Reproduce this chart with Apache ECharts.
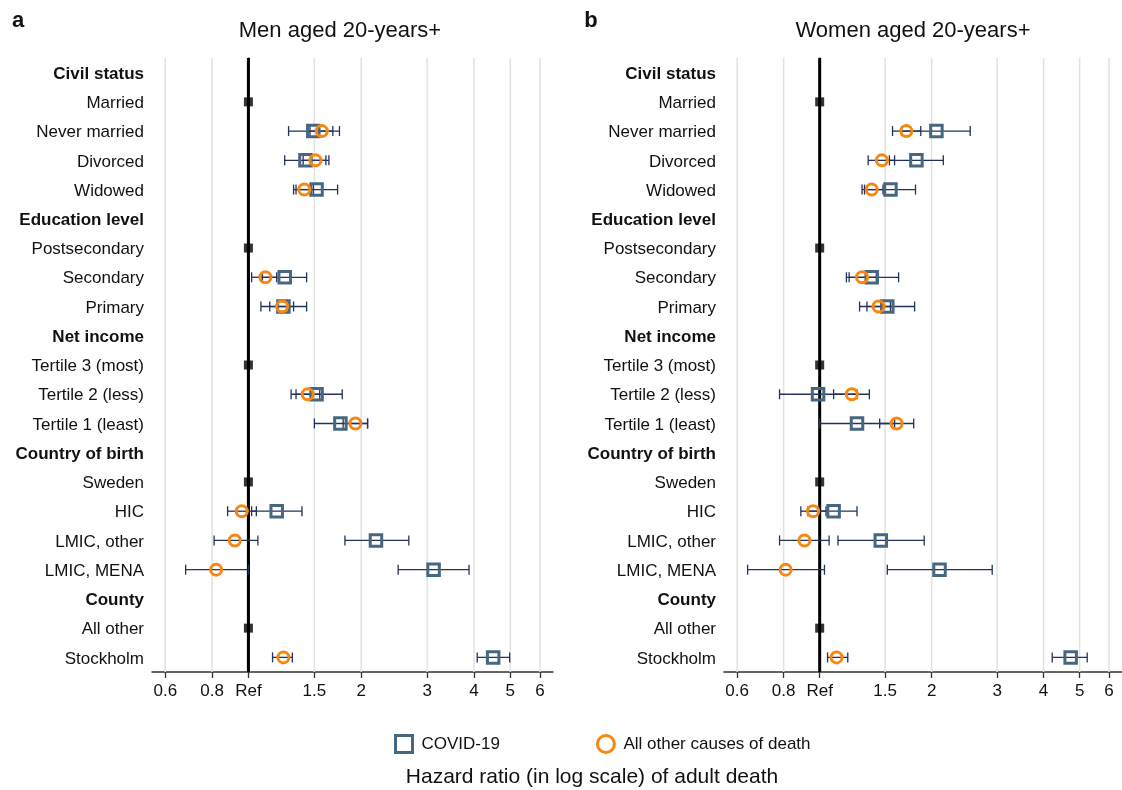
<!DOCTYPE html>
<html><head><meta charset="utf-8">
<script src="https://cdn.jsdelivr.net/npm/echarts@6/dist/echarts.min.js"></script>
<style>html,body{margin:0;padding:0;background:#fff}#c{width:1122px;height:790px}</style>
</head><body><div id="c"></div>
<script>
// ---------- data ----------
const categories = ['Civil status','Married','Never married','Divorced','Widowed',
  'Education level','Postsecondary','Secondary','Primary',
  'Net income','Tertile 3 (most)','Tertile 2 (less)','Tertile 1 (least)',
  'Country of birth','Sweden','HIC','LMIC, other','LMIC, MENA',
  'County','All other','Stockholm'];
const isHeader = [1,0,0,0,0, 1,0,0,0, 1,0,0,0, 1,0,0,0,0, 1,0,0];
const refHR    = [null,1,null,null,null, null,1,null,null, null,1,null,null, null,1,null,null,null, null,1,null];
const tickValues = [0.6,0.8,1,1.5,2,3,4,5,6];
const tickLabels = ['0.6','0.8','Ref','1.5','2','3','4','5','6'];

// Men aged 20+
const menCovidHR = [null,null,1.49,1.42,1.52, null,null,1.25,1.24, null,null,1.52,1.76, null,null,1.19,2.19,3.12, null,null,4.50];
const menCovidLo = [null,null,1.28,1.25,1.32, null,null,1.09,1.08, null,null,1.30,1.50, null,null,1.02,1.81,2.51, null,null,4.08];
const menCovidHi = [null,null,1.75,1.64,1.73, null,null,1.43,1.43, null,null,1.78,2.08, null,null,1.39,2.68,3.88, null,null,4.98];
const menOtherHR = [null,null,1.57,1.51,1.41, null,null,1.11,1.23, null,null,1.44,1.93, null,null,0.96,0.92,0.82, null,null,1.24];
const menOtherLo = [null,null,1.46,1.40,1.34, null,null,1.02,1.14, null,null,1.34,1.79, null,null,0.88,0.81,0.68, null,null,1.16];
const menOtherHi = [null,null,1.68,1.61,1.49, null,null,1.19,1.32, null,null,1.55,2.08, null,null,1.05,1.06,1.00, null,null,1.31];

// Women aged 20+
const womCovidHR = [null,null,2.06,1.82,1.55, null,null,1.38,1.52, null,null,0.99,1.26, null,null,1.09,1.46,2.10, null,null,4.73];
const womCovidLo = [null,null,1.66,1.54,1.32, null,null,1.18,1.28, null,null,0.78,1.00, null,null,0.93,1.12,1.52, null,null,4.22];
const womCovidHi = [null,null,2.54,2.15,1.81, null,null,1.63,1.80, null,null,1.26,1.59, null,null,1.26,1.91,2.91, null,null,5.24];
const womOtherHR = [null,null,1.71,1.47,1.38, null,null,1.30,1.44, null,null,1.22,1.61, null,null,0.96,0.91,0.81, null,null,1.11];
const womOtherLo = [null,null,1.57,1.35,1.30, null,null,1.20,1.34, null,null,1.09,1.45, null,null,0.89,0.78,0.64, null,null,1.05];
const womOtherHi = [null,null,1.87,1.59,1.48, null,null,1.42,1.55, null,null,1.36,1.79, null,null,1.04,1.06,1.03, null,null,1.19];

// ---------- styling ----------
const FONT = 'Liberation Sans, Arial, Helvetica, sans-serif';
const COL_COVID = '#46677f';
const COL_OTHER = '#f8860f';
const COL_ERR = '#22325d';
const LG = Math.log10;

function pts(hr) {
  const out = [];
  hr.forEach((v, i) => { if (v != null) out.push([LG(v), i]); });
  return out;
}
function errs(hr, lo, hi) {
  const out = [];
  hr.forEach((v, i) => { if (v != null) out.push([LG(lo[i]), LG(hi[i]), i]); });
  return out;
}
function errSeries(gi, data) {
  return {
    type: 'custom', xAxisIndex: gi, yAxisIndex: gi, z: 10, silent: true,
    data, encode: { x: [0, 1], y: 2 },
    renderItem(params, api) {
      const a = api.coord([api.value(0), api.value(2)]);
      const b = api.coord([api.value(1), api.value(2)]);
      const h = 5;
      const st = { stroke: COL_ERR, lineWidth: 1.3, fill: null };
      return { type: 'group', children: [
        { type: 'line', shape: { x1: a[0], y1: a[1], x2: b[0], y2: b[1] }, style: st },
        { type: 'line', shape: { x1: a[0], y1: a[1] - h, x2: a[0], y2: a[1] + h }, style: st },
        { type: 'line', shape: { x1: b[0], y1: b[1] - h, x2: b[0], y2: b[1] + h }, style: st }
      ]};
    }
  };
}
function vlineSeries(gi, values, color, width, z) {
  return {
    type: 'custom', xAxisIndex: gi, yAxisIndex: gi, z, silent: true,
    data: values.map(v => [LG(v), 0]), encode: { x: 0, y: 1 },
    renderItem(params, api) {
      const cs = params.coordSys;
      const x = api.coord([api.value(0), 0])[0];
      return { type: 'line', shape: { x1: x, y1: cs.y, x2: x, y2: cs.y + cs.height },
        style: { stroke: color, lineWidth: width } };
    }
  };
}
function panel(gi, cHR, cLo, cHi, oHR, oLo, oHi) {
  return [
    vlineSeries(gi, tickValues.filter(v => v !== 1), '#e2e2e2', 1.5, 1),
    vlineSeries(gi, [1], '#000', 3, 2),
    errSeries(gi, errs(cHR, cLo, cHi)),
    errSeries(gi, errs(oHR, oLo, oHi)),
    { name: 'COVID-19', type: 'scatter', xAxisIndex: gi, yAxisIndex: gi, z: 11,
      symbol: 'rect', symbolSize: 11.5, data: pts(cHR),
      itemStyle: { color: 'rgba(255,255,255,0)', borderColor: COL_COVID, borderWidth: 3, opacity: 1 } },
    { name: 'All other causes of death', type: 'scatter', xAxisIndex: gi, yAxisIndex: gi, z: 12,
      symbol: 'circle', symbolSize: 11, data: pts(oHR),
      itemStyle: { color: 'rgba(255,255,255,0)', borderColor: COL_OTHER, borderWidth: 3, opacity: 1 } },
    { type: 'scatter', xAxisIndex: gi, yAxisIndex: gi, z: 13, silent: true,
      symbol: 'rect', symbolSize: 9, data: pts(refHR), itemStyle: { color: '#000' } }
  ];
}
function xAxis(gi) {
  const cv = tickValues.map(LG);
  return {
    type: 'value', gridIndex: gi, min: LG(0.553), max: LG(6.5),
    axisLine: { show: true, onZero: false, lineStyle: { color: '#333', width: 1.5 } },
    axisTick: { show: true, customValues: cv, length: 6, lineStyle: { color: '#333', width: 1.3 } },
    axisLabel: { show: true, customValues: cv, margin: 11, fontSize: 17, color: '#111', fontFamily: FONT,
      formatter: v => { const i = cv.findIndex(t => Math.abs(t - v) < 1e-6); return i >= 0 ? tickLabels[i] : ''; } },
    splitLine: { show: false }
  };
}
function yAxis(gi) {
  return {
    type: 'category', gridIndex: gi, data: categories, inverse: true, boundaryGap: true,
    axisLine: { show: true, lineStyle: { color: '#3a3a3a', width: 1.5 } },
    axisTick: { show: false },
    splitLine: { show: false },
    axisLabel: { interval: 0, margin: 8, fontSize: 17, color: '#111', fontFamily: FONT,
      padding: [3, 0, 0, 0],
      formatter: (v, i) => isHeader[i] ? '{b|' + v + '}' : v,
      rich: { b: { fontWeight: 'bold', fontSize: 17, color: '#111', fontFamily: FONT } } }
  };
}

const chart = echarts.init(document.getElementById('c'), null, { renderer: 'canvas' });
const txt = (x, y, text, size, weight) => ({ type: 'text', x, y, silent: true,
  style: { text, fontSize: size, fontWeight: weight || 'normal', fontFamily: FONT, fill: '#111',
    align: 'center', verticalAlign: 'middle' } });

chart.setOption({
  animation: false,
  backgroundColor: '#fff',
  textStyle: { fontFamily: FONT },
  grid: [
    { left: 152, top: 58, width: 401, height: 614, containLabel: false },
    { left: 724, top: 58, width: 399, height: 614, containLabel: false }
  ],
  xAxis: [xAxis(0), xAxis(1)],
  yAxis: [yAxis(0), yAxis(1)],
  legend: {
    left: 389, top: 729, itemWidth: 17, itemHeight: 17, itemGap: 96,
    textStyle: { fontSize: 17, color: '#111', fontFamily: FONT, padding: [0, 0, 0, 4] },
    data: [
      { name: 'COVID-19', icon: 'rect', itemStyle: { color: '#fff', borderColor: COL_COVID, borderWidth: 3 } },
      { name: 'All other causes of death', icon: 'circle', itemStyle: { color: '#fff', borderColor: COL_OTHER, borderWidth: 3 } }
    ]
  },
  graphic: [
    txt(18, 21, 'a', 22, 'bold'),
    txt(591, 21, 'b', 22, 'bold'),
    txt(340, 31, 'Men aged 20-years+', 22),
    txt(913, 31, 'Women aged 20-years+', 22),
    txt(592, 777, 'Hazard ratio (in log scale) of adult death', 21)
  ],
  series: [
    ...panel(0, menCovidHR, menCovidLo, menCovidHi, menOtherHR, menOtherLo, menOtherHi),
    ...panel(1, womCovidHR, womCovidLo, womCovidHi, womOtherHR, womOtherLo, womOtherHi)
  ]
});
</script>
</body></html>
